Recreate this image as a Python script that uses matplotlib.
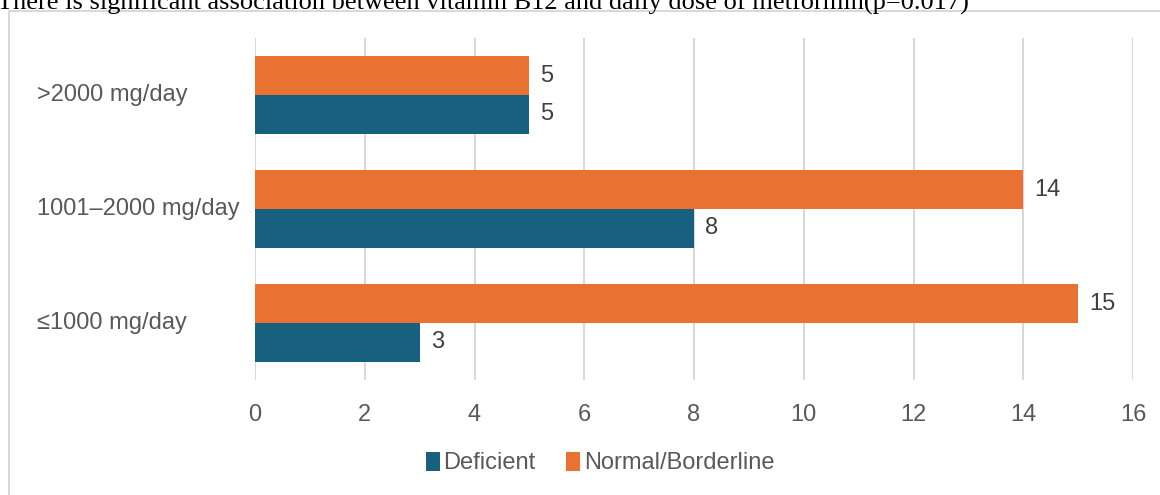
import matplotlib
matplotlib.use("Agg")
import matplotlib.pyplot as plt
import matplotlib.transforms as mtransforms
from matplotlib.patches import Rectangle
import numpy as np

categories = ["\u22641000 mg/day", "1001\u20132000 mg/day", ">2000 mg/day"]
deficient = [3, 8, 5]
normal = [15, 14, 5]
series_names = ["Deficient", "Normal/Borderline"]
title = "There is significant association between vitamin B12 and daily dose of metformin(p=0.017)"

BLUE = "#17607f"
ORANGE = "#e97132"
GRID = "#d9d9d9"
TXT = "#595959"

plt.rcParams["font.family"] = ["Liberation Sans", "DejaVu Sans"]

def main():
    W, H = 1160, 495
    fig = plt.figure(figsize=(W / 100, H / 100), dpi=100)
    ax = fig.add_axes([255 / W, 1 - 380 / H, (1133 - 255) / W, (380 - 38) / H])

    # chart frame, cut off at the right and bottom
    fig.patches.append(Rectangle((9 / W, -0.1), 1.2, 1 - 11 / H + 0.1, transform=fig.transFigure,
                                 fill=False, edgecolor=GRID, linewidth=1.5))
    fig.text(-3 / W, 1 - 9.5 / H, title, family="Liberation Serif", fontsize=19,
             color="black", ha="left", va="baseline")

    y = np.arange(len(categories))
    h = 0.342
    b1 = ax.barh(y - h / 2, deficient, height=h, color=BLUE, label=series_names[0], zorder=3)
    b2 = ax.barh(y + h / 2, normal, height=h, color=ORANGE, label=series_names[1], zorder=3)
    for bars in (b1, b2):
        ax.bar_label(bars, padding=8, fontsize=17, color="#404040")

    ax.set_xlim(0, 16)
    ax.set_ylim(-0.5, 2.5)
    ax.set_xticks(range(0, 17, 2))
    ax.tick_params(axis="x", length=0, pad=17, labelsize=17, labelcolor=TXT)
    ax.set_yticks([])
    ax.grid(axis="x", color=GRID, linewidth=1.5, zorder=0)
    for s in ax.spines.values():
        s.set_visible(False)

    trans = mtransforms.blended_transform_factory(fig.transFigure, ax.transData)
    for yi, lab in zip(y, categories):
        fig.text(37 / W, yi, lab, transform=trans, ha="left", va="center",
                 fontsize=17, color=TXT)

    fig.legend(handles=[b1, b2], loc="center", bbox_to_anchor=(600 / W, 1 - 463 / H),
               ncol=2, frameon=False, fontsize=17, labelcolor=TXT, handlelength=0.6,
               handleheight=0.9, handletextpad=0.15, columnspacing=1.3)

    fig.savefig("out.png", dpi=100)

if __name__ == "__main__":
    main()
